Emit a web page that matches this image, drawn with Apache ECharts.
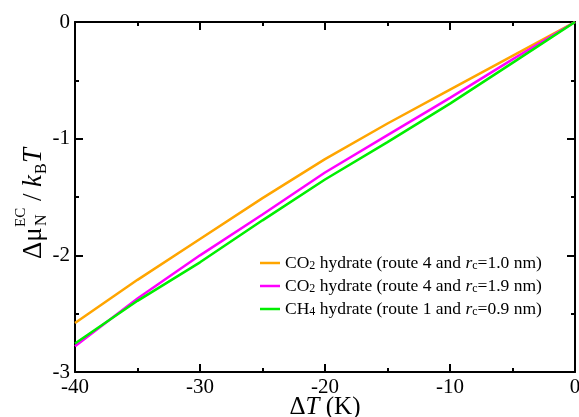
<!DOCTYPE html>
<html>
<head>
<meta charset="utf-8">
<script src="https://cdn.jsdelivr.net/npm/echarts@6/dist/echarts.min.js"></script>
<style>
  html, body { margin: 0; padding: 0; background: #fff; }
  #chart { width: 579px; height: 417px; }
</style>
</head>
<body>
<div id="chart"></div>
<script>
// Undercooling (K) at which the chemical potential difference was evaluated
const deltaT = [-40, -35, -30, -25, -20, -15, -10, -5, 0];

// Δμ_N^EC / k_B T for each hydrate / route / cutoff combination
const co2Route4Rc10 = [-2.58, -2.21, -1.86, -1.51, -1.175, -0.87, -0.58, -0.29, 0];
const co2Route4Rc19 = [-2.78, -2.37, -2.00, -1.65, -1.29, -0.97, -0.65, -0.32, 0];
const ch4Route1Rc09 = [-2.755, -2.39, -2.06, -1.70, -1.35, -1.03, -0.70, -0.35, 0];

const seriesNames = [
  'CO2 hydrate (route 4 and rc=1.0 nm)',
  'CO2 hydrate (route 4 and rc=1.9 nm)',
  'CH4 hydrate (route 1 and rc=0.9 nm)'
];
// Rich-text versions of the legend entries (subscripts, italic r)
const legendRich = {
  'CO2 hydrate (route 4 and rc=1.0 nm)': '{n|CO}{s|2}{n| hydrate (route 4 and }{i|r}{s|c}{n|=1.0 nm)}',
  'CO2 hydrate (route 4 and rc=1.9 nm)': '{n|CO}{s|2}{n| hydrate (route 4 and }{i|r}{s|c}{n|=1.9 nm)}',
  'CH4 hydrate (route 1 and rc=0.9 nm)': '{n|CH}{s|4}{n| hydrate (route 1 and }{i|r}{s|c}{n|=0.9 nm)}'
};
const seriesValues = [co2Route4Rc10, co2Route4Rc19, ch4Route1Rc09];
const seriesColors = ['#ffa500', '#ff00ff', '#00ee00'];

const serif = '"Liberation Serif", "DejaVu Serif", serif';

const chart = echarts.init(document.getElementById('chart'), null, { renderer: 'canvas' });

function frameAxis(extra) {
  return Object.assign({
    type: 'value',
    axisLine: { show: true, onZero: false, lineStyle: { color: '#000', width: 2 } },
    axisTick: { show: true, inside: true, length: 8, lineStyle: { color: '#000', width: 2 } },
    minorTick: { show: true, splitNumber: 2, length: 4, lineStyle: { color: '#000', width: 2 } },
    splitLine: { show: false },
    minorSplitLine: { show: false }
  }, extra);
}

const option = {
  animation: false,
  backgroundColor: '#fff',
  grid: { left: 75, right: 4, top: 22, bottom: 45, containLabel: false, outerBoundsMode: 'none' },
  xAxis: [
    frameAxis({
      position: 'bottom', min: -40, max: 0, interval: 10,
      axisLabel: { color: '#000', fontFamily: serif, fontSize: 21, margin: 5 },
      name: '{n|Δ}{i|T}{n| (K)}',
      nameLocation: 'middle', nameGap: 23,
      nameMoveOverlap: false,
      nameTextStyle: {
        rich: {
          n: { fontFamily: serif, fontSize: 25, color: '#000' },
          i: { fontFamily: serif, fontSize: 25, fontStyle: 'italic', color: '#000' }
        }
      }
    }),
    frameAxis({
      position: 'top', min: -40, max: 0, interval: 10,
      axisLabel: { show: false }
    })
  ],
  yAxis: [
    frameAxis({
      position: 'left', min: -3, max: 0, interval: 1,
      axisLabel: { color: '#000', fontFamily: serif, fontSize: 21, margin: 5 }
    }),
    frameAxis({
      position: 'right', min: -3, max: 0, interval: 1,
      axisLabel: { show: false }
    })
  ],
  legend: {
    data: seriesNames,
    orient: 'vertical',
    left: 255,
    top: 246,
    itemWidth: 20,
    itemHeight: 2.5,
    itemGap: 2,
    icon: 'rect',
    formatter: name => legendRich[name],
    textStyle: {
      rich: {
        n: { fontFamily: serif, fontSize: 17.5, color: '#000', lineHeight: 18 },
        i: { fontFamily: serif, fontSize: 17.5, fontStyle: 'italic', color: '#000', lineHeight: 18 },
        s: { fontFamily: serif, fontSize: 12, color: '#000', verticalAlign: 'bottom', lineHeight: 18, padding: [9, 0, 0, 0] }
      }
    }
  },
  series: seriesValues.map((vals, k) => ({
    name: seriesNames[k],
    type: 'line',
    data: deltaT.map((t, j) => [t, vals[j]]),
    symbol: 'none',
    color: seriesColors[k],
    lineStyle: { color: seriesColors[k], width: 2.5 },
    z: 3 + k
  })),
  graphic: [
    {
      // Vertical y-axis title: Δμ_N^EC / k_B T
      type: 'group',
      x: 34,
      y: 259,
      rotation: Math.PI / 2,
      children: [
        { type: 'text', x: 0, y: 0, style: { text: 'Δμ', font: '27px ' + serif, fill: '#000', verticalAlign: 'middle', align: 'left' } },
        { type: 'text', x: 33, y: 8, style: { text: 'N', font: '16px ' + serif, fill: '#000', verticalAlign: 'middle', align: 'left' } },
        { type: 'text', x: 32, y: -13, style: { text: 'EC', font: '15px ' + serif, fill: '#000', verticalAlign: 'middle', align: 'left' } },
        { type: 'text', x: 58, y: 0, style: { text: '/', font: '27px ' + serif, fill: '#000', verticalAlign: 'middle', align: 'left' } },
        { type: 'text', x: 72, y: 0, style: { text: 'k', font: 'italic 27px ' + serif, fill: '#000', verticalAlign: 'middle', align: 'left' } },
        { type: 'text', x: 85, y: 8, style: { text: 'B', font: '16px ' + serif, fill: '#000', verticalAlign: 'middle', align: 'left' } },
        { type: 'text', x: 96, y: 0, style: { text: 'T', font: 'italic 27px ' + serif, fill: '#000', verticalAlign: 'middle', align: 'left' } }
      ]
    }
  ]
};

chart.setOption(option);
</script>
</body>
</html>
